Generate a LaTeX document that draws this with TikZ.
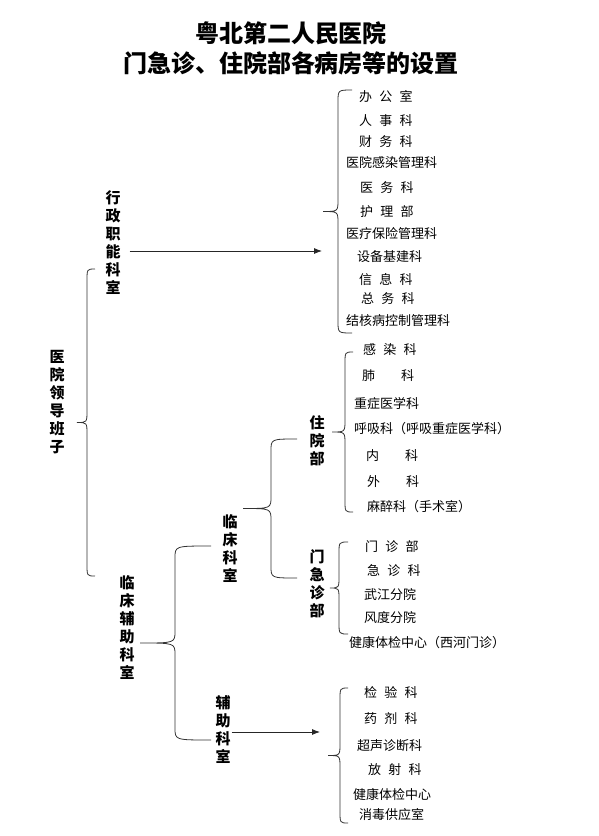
\documentclass[tikz,border=0pt]{standalone}
\usepackage{fontspec}
\newfontfamily\cjk{Noto Sans CJK SC}
\usetikzlibrary{arrows.meta}
% curly brace: end x, stem x, tip x, top y, bottom y
\newcommand{\brc}[5]{\draw[brace line](#1,#4) .. controls (#2,#4) .. (#2,#4+12) -- (#2,{(#4+#5)/2-12}) .. controls (#2,{(#4+#5)/2}) .. (#3,{(#4+#5)/2}) .. controls (#2,{(#4+#5)/2}) .. (#2,{(#4+#5)/2+12}) -- (#2,#5-12) .. controls (#2,#5) .. (#1,#5);}

\begin{document}
\begin{tikzpicture}[x=1pt,y=-1pt,
  item/.style={anchor=west,inner sep=0pt,font={\cjk\fontsize{13}{15}\selectfont\spaceskip=.55em\relax}},
  lbl/.style={align=center,inner sep=1pt,font={\cjk\bfseries\fontsize{15}{18}\selectfont}},
  brace line/.style={line width=.8pt,black!80},
  arr/.style={line width=.8pt,black!85,-{Latex[length=8pt,width=6pt]}}]
\useasboundingbox(0,0) rectangle (598,836);
\node[align=center,font={\cjk\bfseries\fontsize{24}{30}\selectfont}](title) at (291,48){粤北第二人民医院\\门急诊、住院部各病房等的设置};

\node[lbl](yl) at (57,402.5){医\\院\\领\\导\\班\\子};
\node[lbl](xz) at (113,242.5){行\\政\\职\\能\\科\\室};
\node[lbl](lf) at (127,628){临\\床\\辅\\助\\科\\室};
\node[lbl](lk) at (230,548.5){临\\床\\科\\室};
\node[lbl](zy) at (317,440.5){住\\院\\部};
\node[lbl](mj) at (317,584){门\\急\\诊\\部};
\node[lbl](fz) at (223,729.5){辅\\助\\科\\室};

\brc{95}{87}{77}{269}{576}
\brc{297}{271}{243}{439}{578}
\brc{211}{175}{140}{546}{740}
\brc{352}{338}{323}{90}{333}
\brc{353}{345}{332}{352}{512}
\brc{348}{339}{330}{542}{634}
\brc{348}{340}{328}{688}{823}

\coordinate(adin) at (322,251);
\coordinate(fzin) at (320,732);
\draw[arr,shorten <=8pt](xz.east |- adin)--(adin);
\draw[arr](fz.east |- fzin)--(fzin);

\node[item](ad1) at (359,97){办 公 室};
\node[item](ad2) at (359,121){人 事 科};
\node[item](ad3) at (359,142){财 务 科};
\node[item](ad4) at (346,163){医院感染管理科};
\node[item](ad5) at (360,188){医 务 科};
\node[item](ad6) at (360,212){护 理 部};
\node[item](ad7) at (346,234){医疗保险管理科};
\node[item](ad8) at (357,257){设备基建科};
\node[item](ad9) at (359,280){信 息 科};
\node[item](ad10) at (361,299){总 务 科};
\node[item](ad11) at (346,321){结核病控制管理科};

\node[item](zy1) at (363,350){感 染 科};
\node[item](zy2) at (362,376){肺　　科};
\node[item](zy3) at (354,404){重症医学科};
\node[item](zy4) at (354,429){呼吸科（呼吸重症医学科）};
\node[item](zy5) at (366,456){内　　科};
\node[item](zy6) at (367,482){外　　科};
\node[item](zy7) at (367,507){麻醉科（手术室）};

\node[item](mz1) at (365,547){门 诊 部};
\node[item](mz2) at (367,571){急 诊 科};
\node[item](mz3) at (364,595){武江分院};
\node[item](mz4) at (364,618){风度分院};
\node[item](mz5) at (349,643){健康体检中心（西河门诊）};

\node[item](fz1) at (364,692){检 验 科};
\node[item](fz2) at (364,719){药 剂 科};
\node[item](fz3) at (357,746){超声诊断科};
\node[item](fz4) at (368,770){放 射 科};
\node[item](fz5) at (353,794){健康体检中心};
\node[item](fz6) at (359,815){消毒供应室};

\end{tikzpicture}
\end{document}
